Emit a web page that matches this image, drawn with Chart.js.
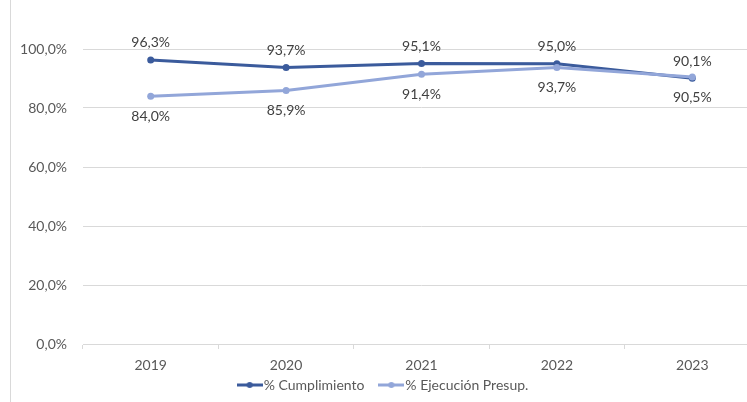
<!DOCTYPE html>
<html>
<head>
<meta charset="utf-8">
<script src="https://cdn.jsdelivr.net/npm/chart.js@4.4.0/dist/chart.umd.min.js"></script>
<style>
  html, body { margin: 0; padding: 0; background: #fff; overflow: hidden; width: 747px; height: 402px; }
  .frame { position: absolute; left: 10px; top: 0; width: 770px; height: 402px; border-left: 1px solid #d9d9d9; }
  .frame canvas { position: absolute; left: 0; top: 0; }
</style>
</head>
<body>
<div class="frame"><canvas id="chart" width="770" height="402"></canvas></div>
<script>
// Chart data
const years = ['2019', '2020', '2021', '2022', '2023'];
const cumplimiento = [96.3, 93.7, 95.1, 95.0, 90.1];
const ejecucion = [84.0, 85.9, 91.4, 93.7, 90.5];
const yTicks = [0, 20, 40, 60, 80, 100];

const darkBlue = '#3b5b9c';
const lightBlue = '#92a6d9';
const FONT = "Lato, 'Open Sans', sans-serif";

function fmt(v) {
    return v.toFixed(1).replace('.', ',') + '%';
}

// Legend swatch: line with a dot in the middle
function swatch(color) {
    const c = document.createElement('canvas');
    c.width = 26; c.height = 8;
    const g = c.getContext('2d');
    g.strokeStyle = color;
    g.lineWidth = 3;
    g.beginPath(); g.moveTo(0, 4); g.lineTo(26, 4); g.stroke();
    g.fillStyle = color;
    g.beginPath(); g.arc(13, 4, 3, 0, Math.PI * 2); g.fill();
    return c;
}

// Data labels: dark series above, light series below
const labelPlugin = {
    id: 'labels',
    afterDatasetsDraw(chart) {
        const ctx = chart.ctx;
        ctx.save();
        ctx.font = '14px ' + FONT;
        ctx.fillStyle = '#404040';
        ctx.textAlign = 'center';
        ctx.textBaseline = 'middle';
        chart.data.datasets.forEach((ds, i) => {
            const meta = chart.getDatasetMeta(i);
            meta.data.forEach((pt, j) => {
                const dy = i === 0 ? -17 : 20;
                ctx.fillText(fmt(ds.data[j]), pt.x, pt.y + dy);
            });
        });
        ctx.restore();
    }
};

new Chart(document.getElementById('chart').getContext('2d'), {
    type: 'line',
    data: {
        labels: years,
        datasets: [{
            label: '% Cumplimiento',
            data: cumplimiento,
            borderColor: darkBlue,
            backgroundColor: darkBlue,
            borderWidth: 3,
            pointRadius: 3.5,
            pointBorderWidth: 0,
            pointBackgroundColor: darkBlue,
            tension: 0,
            order: 2
        }, {
            label: '% Ejecución Presup.',
            data: ejecucion,
            borderColor: lightBlue,
            backgroundColor: lightBlue,
            borderWidth: 3,
            pointRadius: 3.5,
            pointBorderWidth: 0,
            pointBackgroundColor: lightBlue,
            tension: 0,
            order: 1
        }]
    },
    options: {
        responsive: false,
        animation: false,
        layout: { padding: { top: 49, right: 21, bottom: 0, left: 0 } },
        plugins: {
            legend: {
                position: 'bottom',
                labels: {
                    usePointStyle: true,
                    color: '#595959',
                    font: { family: FONT, size: 14 },
                    padding: 2,
                    boxHeight: 8,
                    generateLabels(chart) {
                        return chart.data.datasets.map((ds, i) => ({
                            // trailing spaces give the gap between the two items
                            text: i === 0 ? ds.label + '\u00a0\u00a0\u00a0\u00a0\u00a0' : ds.label,
                            pointStyle: swatch(ds.borderColor),
                            fillStyle: ds.borderColor,
                            strokeStyle: ds.borderColor,
                            lineWidth: 0,
                            fontColor: '#595959',
                            datasetIndex: i,
                            hidden: false
                        }));
                    }
                }
            },
            tooltip: { enabled: false }
        },
        scales: {
            y: {
                min: 0,
                max: 100,
                afterBuildTicks(axis) {
                    axis.ticks = yTicks.map(v => ({ value: v }));
                },
                afterFit(axis) { axis.width = 72; },
                ticks: {
                    padding: 16,
                    color: '#595959',
                    font: { family: FONT, size: 14 },
                    callback: v => fmt(v)
                },
                grid: { color: '#d9d9d9', lineWidth: 1, drawTicks: false },
                border: { display: false }
            },
            x: {
                offset: true,
                afterFit(axis) { axis.height = 32; },
                ticks: {
                    color: '#595959',
                    font: { family: FONT, size: 14 },
                    padding: 8
                },
                grid: {
                    offset: true,
                    drawOnChartArea: false,
                    drawTicks: true,
                    tickLength: 5,
                    color: '#d9d9d9'
                },
                border: { color: '#d9d9d9' }
            }
        }
    },
    plugins: [labelPlugin]
});
</script>
</body>
</html>
